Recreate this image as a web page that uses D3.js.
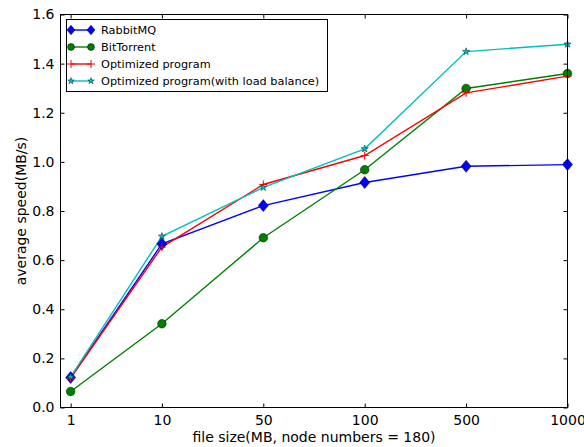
<!DOCTYPE html>
<html><head><meta charset="utf-8">
<script src="https://cdn.jsdelivr.net/npm/d3@7"></script>
<style>body{margin:0;background:#fff;} text{font-family:"DejaVu Sans",sans-serif;}</style>
</head><body><svg id="c" width="584" height="447"></svg>
<script>
const categories = ["1","10","50","100","500","1000"];
const xPos = [0.1, 1, 2, 3, 4, 5];
const rabbitMQ = [0.122, 0.666, 0.822, 0.916, 0.982, 0.989];
const bitTorrent = [0.065, 0.341, 0.691, 0.968, 1.299, 1.360];
const optimized = [0.120, 0.653, 0.908, 1.026, 1.281, 1.349];
const optimizedLB = [0.125, 0.697, 0.896, 1.053, 1.449, 1.479];
const yTicks = [0.0,0.2,0.4,0.6,0.8,1.0,1.2,1.4,1.6];

const series = [
  {name:"RabbitMQ", values:rabbitMQ, color:"#0000ff", marker:"diamond"},
  {name:"BitTorrent", values:bitTorrent, color:"#008000", marker:"circle"},
  {name:"Optimized program", values:optimized, color:"#ff0000", marker:"plus"},
  {name:"Optimized program(with load balance)", values:optimizedLB, color:"#00bfbf", marker:"star"}
];

const svg = d3.select("#c");
const L=60.5, R=567.5, T=14.5, B=407.5;
const x = d3.scaleLinear().domain([0,5]).range([L,R]);
const y = d3.scaleLinear().domain([0,1.6]).range([B,T]);

const g = svg.append("g");
const tickLen = 4;
g.append("g").attr("transform",`translate(0,${B})`)
  .call(d3.axisBottom(x).tickValues(xPos).tickFormat((d,i)=>categories[i]).tickSizeInner(-tickLen).tickSizeOuter(0).tickPadding(8))
  .call(s=>{s.select(".domain").remove(); s.selectAll("text").attr("font-size",14).attr("fill","#000");});
g.append("g").attr("transform",`translate(0,${T})`)
  .call(d3.axisTop(x).tickValues(xPos).tickFormat("").tickSizeInner(-tickLen).tickSizeOuter(0))
  .call(s=>s.select(".domain").remove());
g.append("g").attr("transform",`translate(${L},0)`)
  .call(d3.axisLeft(y).tickValues(yTicks).tickFormat(d3.format(".1f")).tickSizeInner(-tickLen).tickSizeOuter(0).tickPadding(6))
  .call(s=>{s.select(".domain").remove(); s.selectAll("text").attr("font-size",14).attr("fill","#000");});
g.append("g").attr("transform",`translate(${R},0)`)
  .call(d3.axisRight(y).tickValues(yTicks).tickFormat("").tickSizeInner(-tickLen).tickSizeOuter(0))
  .call(s=>s.select(".domain").remove());
g.selectAll(".tick line").attr("stroke","#000");

const line = d3.line().x((d,i)=>x(xPos[i])).y(d=>y(d));
const plot = svg.append("g");
function drawMarker(sel, type, color, px, py, big){
  const s = big||1;
  if(type==="diamond"){
    sel.append("path").attr("d",`M${px},${py-6*s}L${px+5*s},${py}L${px},${py+6*s}L${px-5*s},${py}Z`)
      .attr("fill",color).attr("stroke","#000").attr("stroke-width",0.5);
  } else if(type==="circle"){
    sel.append("circle").attr("cx",px).attr("cy",py).attr("r",4.3*s).attr("fill",color).attr("stroke","#000").attr("stroke-width",0.5);
  } else if(type==="plus"){
    sel.append("path").attr("d",`M${px-4},${py}H${px+4}M${px},${py-4}V${py+4}`).attr("stroke",color).attr("stroke-width",1);
  } else if(type==="star"){
    const sym = d3.symbol().type(d3.symbolStar).size(16*s);
    sel.append("path").attr("d",sym()).attr("transform",`translate(${px},${py})`)
      .attr("fill",color).attr("stroke","#004040").attr("stroke-width",0.6);
  }
}
series.forEach(sr=>{
  plot.append("path").datum(sr.values).attr("d",line).attr("fill","none").attr("stroke",sr.color).attr("stroke-width",1.4);
});
series.forEach(sr=>{
  sr.values.forEach((v,i)=>drawMarker(plot, sr.marker, sr.color, x(xPos[i]), y(v)));
});

svg.append("rect").attr("x",L).attr("y",T).attr("width",R-L).attr("height",B-T).attr("fill","none").attr("stroke","#000").attr("stroke-width",1);

svg.append("text").attr("x",(L+R)/2).attr("y",442).attr("text-anchor","middle").attr("font-size",14).text("file size(MB, node numbers = 180)");
svg.append("text").attr("transform",`translate(26,${(T+B)/2}) rotate(-90)`).attr("text-anchor","middle").attr("font-size",14).text("average speed(MB/s)");

const lg = svg.append("g");
lg.append("rect").attr("x",66.5).attr("y",19.5).attr("width",261).attr("height",72).attr("fill","#fff").attr("stroke","#000").attr("stroke-width",1);
series.forEach((sr,i)=>{
  const yy = 30 + i*17;
  lg.append("line").attr("x1",71).attr("x2",91).attr("y1",yy).attr("y2",yy).attr("stroke",sr.color).attr("stroke-width",1.4);
  drawMarker(lg, sr.marker, sr.color, 71, yy, 0.8);
  drawMarker(lg, sr.marker, sr.color, 91, yy, 0.8);
  lg.append("text").attr("x",101).attr("y",yy+4).attr("font-size",11.3).text(sr.name);
});
</script></body></html>
